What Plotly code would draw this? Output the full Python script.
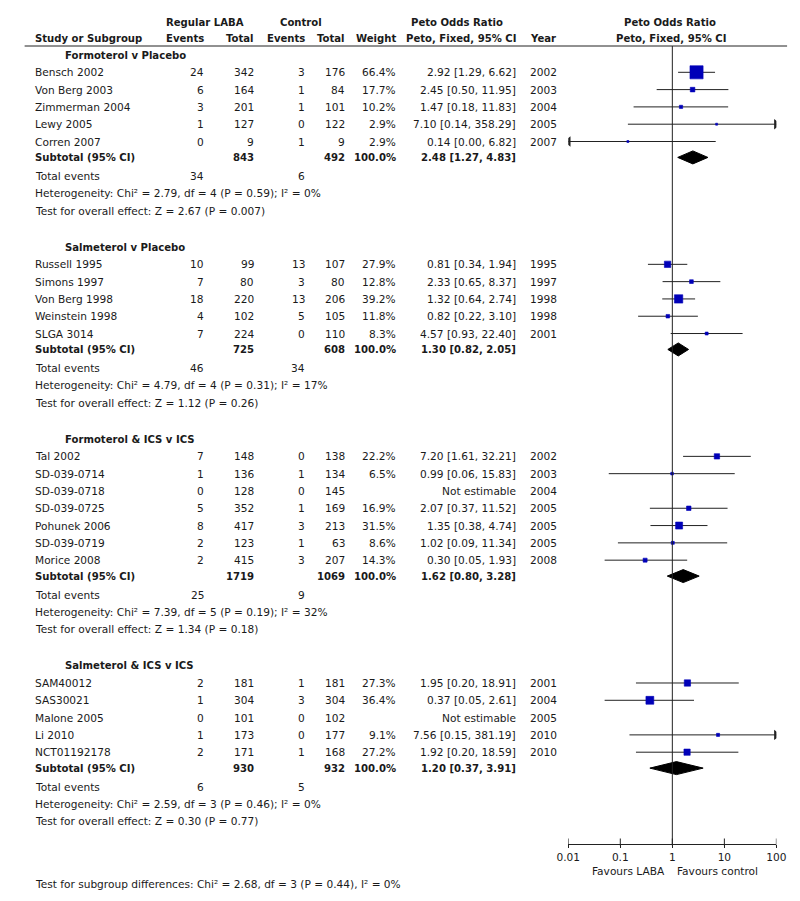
import plotly.graph_objects as go

FONT = "DejaVu Sans"
TXT = "#1a1a1a"
BLUE = "#0000B8"
FS = 10.6
FSB = 10.1

# ---------------- data ----------------
group_titles = ["Formoterol v Placebo", "Salmeterol v Placebo",
                "Formoterol & ICS v ICS", "Salmeterol & ICS v ICS"]

g1_study = ["Bensch 2002", "Von Berg 2003", "Zimmerman 2004", "Lewy 2005", "Corren 2007"]
g1_e1 = [24, 6, 3, 1, 0]
g1_n1 = [342, 164, 201, 127, 9]
g1_e2 = [3, 1, 1, 0, 1]
g1_n2 = [176, 84, 101, 122, 9]
g1_w = [66.4, 17.7, 10.2, 2.9, 2.9]
g1_or = [2.92, 2.45, 1.47, 7.10, 0.14]
g1_lo = [1.29, 0.50, 0.18, 0.14, 0.00]
g1_hi = [6.62, 11.95, 11.83, 358.29, 6.82]
g1_year = [2002, 2003, 2004, 2005, 2007]

g2_study = ["Russell 1995", "Simons 1997", "Von Berg 1998", "Weinstein 1998", "SLGA 3014"]
g2_e1 = [10, 7, 18, 4, 7]
g2_n1 = [99, 80, 220, 102, 224]
g2_e2 = [13, 3, 13, 5, 0]
g2_n2 = [107, 80, 206, 105, 110]
g2_w = [27.9, 12.8, 39.2, 11.8, 8.3]
g2_or = [0.81, 2.33, 1.32, 0.82, 4.57]
g2_lo = [0.34, 0.65, 0.64, 0.22, 0.93]
g2_hi = [1.94, 8.37, 2.74, 3.10, 22.40]
g2_year = [1995, 1997, 1998, 1998, 2001]

g3_study = ["Tal 2002", "SD-039-0714", "SD-039-0718", "SD-039-0725", "Pohunek 2006",
            "SD-039-0719", "Morice 2008"]
g3_e1 = [7, 1, 0, 5, 8, 2, 2]
g3_n1 = [148, 136, 128, 352, 417, 123, 415]
g3_e2 = [0, 1, 0, 1, 3, 1, 3]
g3_n2 = [138, 134, 145, 169, 213, 63, 207]
g3_w = [22.2, 6.5, None, 16.9, 31.5, 8.6, 14.3]
g3_or = [7.20, 0.99, None, 2.07, 1.35, 1.02, 0.30]
g3_lo = [1.61, 0.06, None, 0.37, 0.38, 0.09, 0.05]
g3_hi = [32.21, 15.83, None, 11.52, 4.74, 11.34, 1.93]
g3_year = [2002, 2003, 2004, 2005, 2005, 2005, 2008]

g4_study = ["SAM40012", "SAS30021", "Malone 2005", "Li 2010", "NCT01192178"]
g4_e1 = [2, 1, 0, 1, 2]
g4_n1 = [181, 304, 101, 173, 171]
g4_e2 = [1, 3, 0, 0, 1]
g4_n2 = [181, 304, 102, 177, 168]
g4_w = [27.3, 36.4, None, 9.1, 27.2]
g4_or = [1.95, 0.37, None, 7.56, 1.92]
g4_lo = [0.20, 0.05, None, 0.15, 0.20]
g4_hi = [18.91, 2.61, None, 381.19, 18.59]
g4_year = [2001, 2004, 2005, 2010, 2010]

sub_n1 = [843, 725, 1719, 930]
sub_n2 = [492, 608, 1069, 932]
sub_or = [2.48, 1.30, 1.62, 1.20]
sub_lo = [1.27, 0.82, 0.80, 0.37]
sub_hi = [4.83, 2.05, 3.28, 3.91]
tot_e1 = [34, 46, 25, 6]
tot_e2 = [6, 34, 9, 5]
het_chi = [2.79, 4.79, 7.39, 2.59]
het_df = [4, 4, 5, 3]
het_p = [0.59, 0.31, 0.19, 0.46]
het_i2 = [0, 17, 32, 0]
eff_z = [2.67, 1.12, 1.34, 0.30]
eff_p = ["0.007", "0.26", "0.18", "0.77"]

tick_vals = [0.01, 0.1, 1, 10, 100]
tick_text = ["0.01", "0.1", "1", "10", "100"]

subgroup_test = "Test for subgroup differences: Chi² = 2.68, df = 3 (P = 0.44), I² = 0%"

groups = [
    (g1_study, g1_e1, g1_n1, g1_e2, g1_n2, g1_w, g1_or, g1_lo, g1_hi, g1_year),
    (g2_study, g2_e1, g2_n1, g2_e2, g2_n2, g2_w, g2_or, g2_lo, g2_hi, g2_year),
    (g3_study, g3_e1, g3_n1, g3_e2, g3_n2, g3_w, g3_or, g3_lo, g3_hi, g3_year),
    (g4_study, g4_e1, g4_n1, g4_e2, g4_n2, g4_w, g4_or, g4_lo, g4_hi, g4_year),
]

# ---------------- layout constants (pixel columns) ----------------
W, H = 800, 901
ROW = 17.3
Y0 = 55
X_NAME, X_HDR = 23, 53
X_E1, X_N1, X_E2, X_N2, X_W, X_OR, X_YR = 198, 250, 302, 343, 396, 519, 532
AXIS_Y = 844
XMIN, XMAX = 0.01, 100

fig = go.Figure()
ann = []


def txt(x, y, s, anchor="left", bold=False):
    ann.append(dict(x=x, y=y, xref="x", yref="y", text=f"<b>{s}</b>" if bold else s,
                    showarrow=False, xanchor=anchor, yanchor="middle", borderpad=0,
                    font=dict(family=FONT, size=FSB if bold else FS, color=TXT)))


# header
txt(198, 22, "Regular LABA", "center", True)
txt(297, 22, "Control", "center", True)
txt(409, 22, "Peto Odds Ratio", "left", True)
txt(677, 22, "Peto Odds Ratio", "center", True)
txt(X_NAME, 38, "Study or Subgroup", "left", True)
txt(X_E1, 38, "Events", "right", True)
txt(X_N1, 38, "Total", "right", True)
txt(X_E2, 38, "Events", "right", True)
txt(X_N2, 38, "Total", "right", True)
txt(X_W, 38, "Weight", "right", True)
txt(X_OR, 38, "Peto, Fixed, 95% CI", "right", True)
txt(X_YR, 38, "Year", "left", True)
txt(678, 38, "Peto, Fixed, 95% CI", "center", True)

shapes = [dict(type="line", xref="x", yref="y", x0=13, x1=797, y0=46, y1=46,
               line=dict(color="#222", width=1))]

y = Y0
sq_x, sq_y, sq_s = [], [], []
ar_r, ar_l = [], []
for gi, (st, e1, n1, e2, n2, w, orr, lo, hi, yr) in enumerate(groups):
    txt(X_HDR, y, group_titles[gi], "left", True)
    for i in range(len(st)):
        y += ROW
        txt(X_NAME, y, st[i])
        txt(X_E1, y, str(e1[i]), "right")
        txt(X_N1, y, str(n1[i]), "right")
        txt(X_E2, y, str(e2[i]), "right")
        txt(X_N2, y, str(n2[i]), "right")
        txt(X_W, y, "" if w[i] is None else f"{w[i]:.1f}%", "right")
        if orr[i] is None:
            txt(X_OR, y, "Not estimable", "right")
        else:
            txt(X_OR, y, f"{orr[i]:.2f} [{lo[i]:.2f}, {hi[i]:.2f}]", "right")
            a = max(lo[i], XMIN)
            b = min(hi[i], XMAX)
            fig.add_trace(go.Scatter(x=[a, b], y=[y, y], mode="lines", xaxis="x2", yaxis="y",
                                     line=dict(color="#222", width=1), hoverinfo="skip"))
            if hi[i] > XMAX:
                ar_r.append(y)
            if lo[i] < XMIN:
                ar_l.append(y)
            sq_x.append(orr[i])
            sq_y.append(y)
            sq_s.append(1.5 + 0.175 * w[i])
        txt(X_YR, y, str(yr[i]))
    y += ROW * 0.92
    txt(X_NAME, y, "Subtotal (95% CI)", "left", True)
    txt(X_N1, y, str(sub_n1[gi]), "right", True)
    txt(X_N2, y, str(sub_n2[gi]), "right", True)
    txt(X_W, y, "100.0%", "right", True)
    txt(X_OR, y, f"{sub_or[gi]:.2f} [{sub_lo[gi]:.2f}, {sub_hi[gi]:.2f}]", "right", True)
    fig.add_trace(go.Scatter(
        x=[sub_lo[gi], sub_or[gi], sub_hi[gi], sub_or[gi], sub_lo[gi]],
        y=[y, y - 6.5, y, y + 6.5, y], mode="lines", fill="toself",
        fillcolor="black", line=dict(color="black", width=1),
        xaxis="x2", yaxis="y", hoverinfo="skip"))
    y += ROW * 1.08
    txt(X_NAME, y, "Total events")
    txt(X_E1, y, str(tot_e1[gi]), "right")
    txt(X_E2, y, str(tot_e2[gi]), "right")
    y += ROW
    txt(X_NAME, y, f"Heterogeneity: Chi² = {het_chi[gi]:.2f}, df = {het_df[gi]} "
                   f"(P = {het_p[gi]:.2f}); I² = {het_i2[gi]}%")
    y += ROW
    txt(X_NAME, y, f"Test for overall effect: Z = {eff_z[gi]:.2f} (P = {eff_p[gi]})")
    y += ROW * 2.1

# squares
fig.add_trace(go.Scatter(x=sq_x, y=sq_y, mode="markers", xaxis="x2", yaxis="y",
                         marker=dict(symbol="square", size=sq_s, color=BLUE, opacity=1,
                                     line=dict(width=0.6, color=BLUE)), hoverinfo="skip"))
# arrow heads
if ar_r:
    fig.add_trace(go.Scatter(x=[XMAX] * len(ar_r), y=ar_r, mode="markers", xaxis="x2", yaxis="y",
                             marker=dict(symbol="triangle-right", size=9, color="#222"),
                             hoverinfo="skip"))
if ar_l:
    fig.add_trace(go.Scatter(x=[XMIN] * len(ar_l), y=ar_l, mode="markers", xaxis="x2", yaxis="y",
                             marker=dict(symbol="triangle-left", size=9, color="#222"),
                             hoverinfo="skip"))
# line of no effect
fig.add_trace(go.Scatter(x=[1, 1], y=[46, AXIS_Y], mode="lines", xaxis="x2", yaxis="y",
                         line=dict(color="#222", width=1), hoverinfo="skip"))
# axis tick marks (upper half; lower half drawn by the axis)
fig.add_trace(go.Scatter(x=tick_vals, y=[AXIS_Y - 2] * len(tick_vals), mode="markers",
                         xaxis="x2", yaxis="y",
                         marker=dict(symbol="line-ns", size=5, line=dict(color="#222", width=1)),
                         hoverinfo="skip"))
# invisible anchor trace for the text axis
fig.add_trace(go.Scatter(x=[0, W], y=[0, H], mode="markers", marker=dict(opacity=0),
                         xaxis="x", yaxis="y", hoverinfo="skip"))

txt(673, 871, "Favours LABA", "right")
txt(683, 871, "Favours control", "left")
txt(X_NAME, 884, subgroup_test)

d0 = 572 / W
d1 = 786 / W
fig.update_layout(
    width=W, height=H, margin=dict(l=0, r=0, t=0, b=0),
    paper_bgcolor="white", plot_bgcolor="white", showlegend=False,
    xaxis=dict(range=[0, W], domain=[0, 1], visible=False, fixedrange=True),
    yaxis=dict(range=[H, 0], domain=[0, 1], visible=False, fixedrange=True),
    xaxis2=dict(type="log", range=[-2, 2], domain=[d0, d1], anchor="free",
                position=(H - AXIS_Y) / H, showline=True, linecolor="#222", linewidth=1,
                ticks="outside", ticklen=3, tickcolor="#222", tickwidth=1,
                tickvals=tick_vals, ticktext=tick_text, showgrid=False,
                zeroline=False, tickfont=dict(family=FONT, size=FS, color=TXT),
                fixedrange=True),
    annotations=ann, shapes=shapes,
)

fig.write_html("out.html", config={"displayModeBar": False},
               post_script="document.body.style.margin='0px';")
